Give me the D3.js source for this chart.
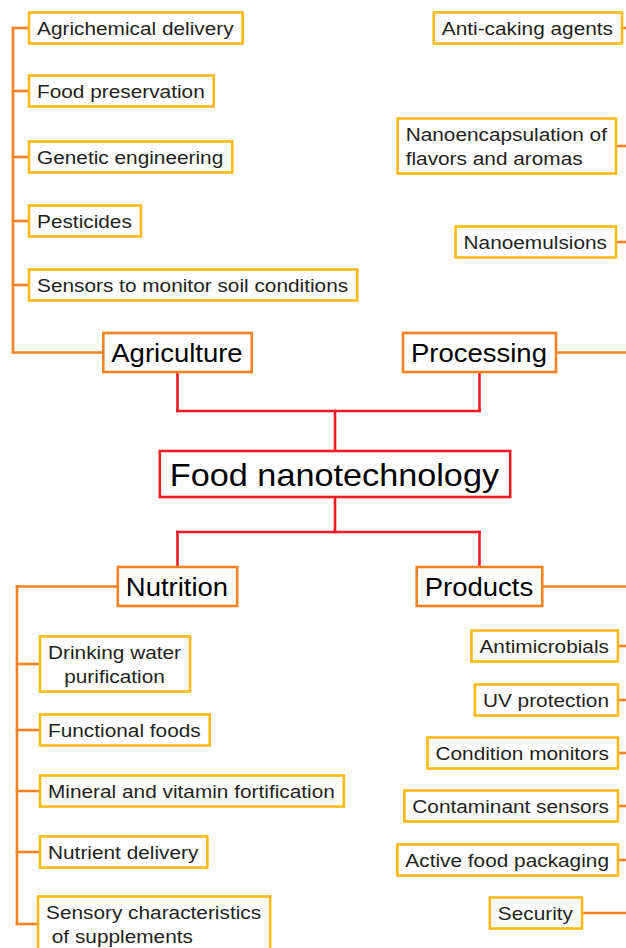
<!DOCTYPE html>
<html>
<head>
<meta charset="utf-8">
<script src="https://cdn.jsdelivr.net/npm/d3@7"></script>
<style>
  body { margin: 0; background: #fff; }
  text { font-family: "Liberation Sans", Arial, sans-serif; white-space: pre; }
</style>
</head>
<body>
<div id="chart"></div>
<script>
// data
const rootLabel = "Food nanotechnology";
const categories = ["Agriculture", "Processing", "Nutrition", "Products"];
const agricultureItems = [["Agrichemical delivery"], ["Food preservation"], ["Genetic engineering"], ["Pesticides"], ["Sensors to monitor soil conditions"]];
const processingItems = [["Anti-caking agents"], ["Nanoencapsulation of", "flavors and aromas"], ["Nanoemulsions"]];
const nutritionItems = [["Drinking water", "purification"], ["Functional foods"], ["Mineral and vitamin fortification"], ["Nutrient delivery"], ["Sensory characteristics", " of supplements"]];
const productsItems = [["Antimicrobials"], ["UV protection"], ["Condition monitors"], ["Contaminant sensors"], ["Active food packaging"], ["Security"]];

// layout (kept apart from the data)
const W = 626, H = 948;
const RED = "#ed1c24", ORANGE = "#f58220", YELLOW = "#fdb913";
const root = { cx: 335, cy: 474, h: 46, size: 32, sx: 1.07 };
const joinTop = 411, joinBottom = 532;
const layout = {
    Agriculture: { items: agricultureItems, side: "left", cx: 177.5, cy: 352.5, spineX: 13, edge: [29, 29, 29, 29, 29], rows: [28, 91, 157, 221, 285] },
    Processing: { items: processingItems, side: "right", cx: 479.5, cy: 352.5, spineX: 628, edge: [622, 616, 616], rows: [28, 146, 242] },
    Nutrition: { items: nutritionItems, side: "left", cx: 177.5, cy: 586.5, spineX: 17, edge: [40, 40, 40, 40, 38], rows: [664, 730, 791, 852, 924], centerText: [true, false, false, false, false] },
    Products: { items: productsItems, side: "right", cx: 479.5, cy: 586.5, spineX: 628, edge: [618, 618, 618, 618, 618, 582], rows: [646, 700, 753, 806, 860, 913] }
};

const svg = d3.select("#chart")
    .append("svg")
    .attr("width", W)
    .attr("height", H);

const gLines = svg.append("g");
const gBoxes = svg.append("g");

function lineWidth(g, str, size, sx) {
    const t = g.append("text").style("font-size", size + "px").text(str);
    const w = t.node().getComputedTextLength() * sx;
    t.remove();
    return w;
}

// draws a box with text, returns its bounds
function drawBox(opts) {
    const g = gBoxes.append("g");
    const widths = opts.lines.map(s => lineWidth(g, s, opts.size, opts.sx));
    const tw = d3.max(widths);
    const w = tw + opts.padL + opts.padR;
    const h = opts.lines.length > 1 ? 55 : opts.h;
    let x0;
    if (opts.anchor === "left") x0 = opts.x;
    else if (opts.anchor === "right") x0 = opts.x - w;
    else x0 = opts.x - w / 2;
    const y0 = opts.cy - h / 2;

    g.append("rect")
        .attr("x", x0).attr("y", y0)
        .attr("width", w).attr("height", h)
        .attr("fill", "#fff")
        .attr("stroke", opts.stroke)
        .attr("stroke-width", 2.6);

    const lh = 23.4;
    const n = opts.lines.length;
    opts.lines.forEach((s, i) => {
        const by = opts.cy + opts.dy + (i - (n - 1) / 2) * lh;
        const tx = opts.center ? x0 + opts.padL + tw / 2 : x0 + opts.padL;
        g.append("text")
            .attr("transform", `translate(${tx},${by}) scale(${opts.sx},1)`)
            .style("font-size", opts.size + "px")
            .style("text-anchor", opts.center ? "middle" : "start")
            .attr("fill", opts.color)
            .text(s);
    });
    return { x0: x0, x1: x0 + w, y0: y0, y1: y0 + h };
}

function seg(x1, y1, x2, y2, color) {
    gLines.append("line")
        .attr("x1", x1).attr("y1", y1)
        .attr("x2", x2).attr("y2", y2)
        .attr("stroke", color)
        .attr("stroke-width", 2.6)
        .attr("stroke-linecap", "square");
}

// root
const rootBox = drawBox({ lines: [rootLabel], x: root.cx, cy: root.cy, anchor: "middle", size: root.size, sx: root.sx, h: root.h, padL: 10, padR: 11, dy: 11.5, stroke: RED, color: "#000" });

// red tree
const leftX = layout.Agriculture.cx, rightX = layout.Processing.cx;
seg(root.cx, rootBox.y0, root.cx, joinTop, RED);
seg(leftX, joinTop, rightX, joinTop, RED);
seg(root.cx, rootBox.y1, root.cx, joinBottom, RED);
seg(leftX, joinBottom, rightX, joinBottom, RED);

categories.forEach(cat => {
    const L = layout[cat];
    const box = drawBox({ lines: [cat], x: L.cx, cy: L.cy, anchor: "middle", size: 25, sx: 1.1, h: 39, padL: 8, padR: 9, dy: 9.5, stroke: ORANGE, color: "#000" });

    // red link to the junction
    if (L.cy < root.cy) seg(L.cx, box.y1, L.cx, joinTop, RED);
    else seg(L.cx, joinBottom, L.cx, box.y0, RED);

    const y = d3.scaleOrdinal()
        .domain(L.items.map(d => d.join(" ")))
        .range(L.rows);

    // category to spine
    if (L.side === "left") seg(box.x0, L.cy, L.spineX, L.cy, ORANGE);
    else seg(box.x1, L.cy, L.spineX, L.cy, ORANGE);

    const ys = L.items.map(d => y(d.join(" ")));
    seg(L.spineX, Math.min(d3.min(ys), L.cy), L.spineX, Math.max(d3.max(ys), L.cy), ORANGE);

    L.items.forEach((lines, i) => {
        const cy = y(lines.join(" "));
        const b = drawBox({
            lines: lines, x: L.edge[i], cy: cy,
            anchor: L.side, size: 18.5, sx: 1.125, h: 31, padL: 8, padR: 9, dy: 7,
            center: L.centerText ? L.centerText[i] : false,
            stroke: YELLOW, color: "#231f20"
        });
        if (L.side === "left") seg(L.spineX, cy, b.x0, cy, ORANGE);
        else seg(b.x1, cy, L.spineX, cy, ORANGE);
    });
});
</script>
</body>
</html>
